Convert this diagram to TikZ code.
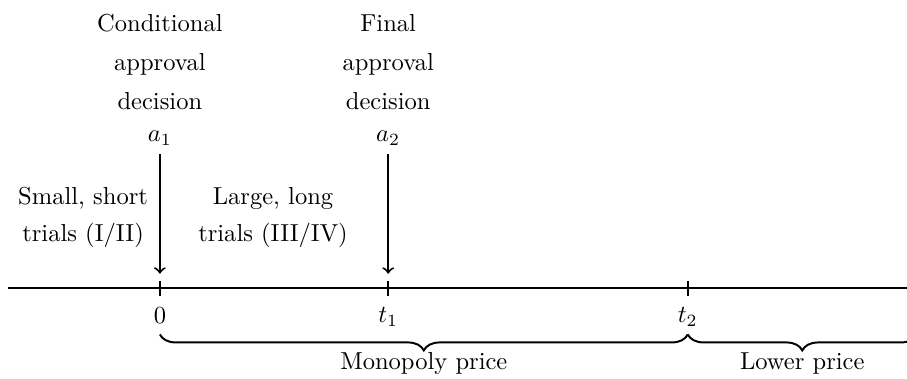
\documentclass[tikz,border=0pt]{standalone}
\usetikzlibrary{decorations.pathreplacing}

\begin{document}
\begin{tikzpicture}
    \useasboundingbox (-2.29,-1.29) rectangle (10.70,4.13);
    % time axis
    \coordinate (start) at (-2.17,0);
    \coordinate (end) at (10.75,0);
    \draw[thick] (start) -- (end);
    \foreach \x/\n in {0/z, 3.27/one, 7.56/two} {
        \draw[thick] (\x,0.11) -- (\x,-0.11);
        \coordinate (b\n) at (\x,-0.66);
        \coordinate (p\n) at (\x,0.21);
    }
    \node (lz) at (0,-0.39) {$0$};
    \node (lone) at (3.27,-0.41) {$t_1$};
    \node (ltwo) at (7.56,-0.41) {$t_2$};
    % decisions
    \node (a1) at (0,2.15) {$a_1$};
    \node (a2) at (3.27,2.15) {$a_2$};
    \node[align=center] (cond) at (0,3.24) {Conditional\\[4pt]approval\\[4pt]decision};
    \node[align=center] (final) at (3.27,3.24) {Final\\[4pt]approval\\[4pt]decision};
    \draw[->, thick] (a1) -- (pz);
    \draw[->, thick] (a2) -- (pone);
    % trials
    \node[align=center] (small) at (-1.1,1.02) {Small, short\\[3pt]trials (I/II)};
    \node[align=center] (large) at (1.62,1.02) {Large, long\\[3pt]trials (III/IV)};
    % prices
    \coordinate (bend) at (10.84,-0.66);
    \draw[thick, decorate, decoration={brace, mirror, amplitude=6.5pt}] (bz) -- (btwo);
    \draw[thick, decorate, decoration={brace, mirror, amplitude=6.5pt}] (btwo) -- (bend);
    \node (mono) at (3.78,-1.07) {Monopoly price};
    \node (lower) at (9.2,-1.07) {Lower price};
\end{tikzpicture}
\end{document}
